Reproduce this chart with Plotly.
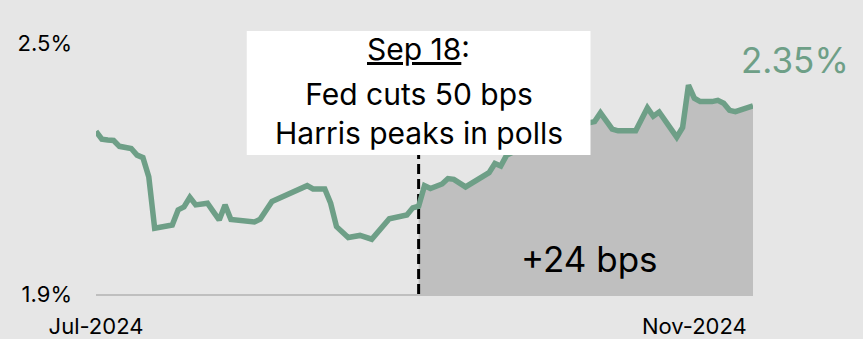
import plotly.graph_objects as go

# 10-year breakeven inflation, trading-day index from 1 Jul 2024
day = [0, 1, 2, 3, 4, 5, 6, 7, 8, 9, 10, 13, 14, 15, 16, 17, 19, 20, 21, 22,
       23, 27, 28, 30, 34, 36, 37, 39, 40, 41, 43, 45, 47, 50, 53, 54, 55, 56,
       57, 59, 60, 61, 63, 65, 67, 68, 69, 70, 72, 73, 75, 77, 78, 80, 82, 83,
       84, 85, 86, 88, 89, 92, 94, 95, 96, 99, 100, 101, 102, 103, 105, 106,
       107, 108, 109, 112]
rate = [2.289, 2.270, 2.268, 2.267, 2.253, 2.251, 2.248, 2.232, 2.226, 2.180,
        2.057, 2.065, 2.101, 2.108, 2.131, 2.113, 2.117, 2.097, 2.077, 2.113,
        2.078, 2.072, 2.079, 2.121, 2.148, 2.159, 2.151, 2.151, 2.117, 2.061,
        2.035, 2.040, 2.031, 2.080, 2.089, 2.106, 2.110, 2.159, 2.152, 2.163,
        2.176, 2.174, 2.156, 2.174, 2.190, 2.212, 2.206, 2.232, 2.244, 2.253,
        2.265, 2.272, 2.282, 2.289, 2.296, 2.306, 2.310, 2.312, 2.333, 2.294,
        2.290, 2.290, 2.345, 2.325, 2.335, 2.275, 2.298, 2.399, 2.368, 2.360,
        2.360, 2.363, 2.356, 2.339, 2.336, 2.350]

x_tick_days = [0, 102]
x_tick_text = ["Jul-2024", "Nov-2024"]
y_tick_vals = [1.9, 2.5]
y_tick_text = ["1.9%", "2.5%"]

event_day = 55  # Sep 18 Fed decision
event_title = "Sep 18"
event_lines = ["Fed cuts 50 bps", "Harris peaks in polls"]

GREEN = "#6e9f87"
BG = "#e6e6e6"
SHADE = "#bfbfbf"
FONT = "Inter"

ev = day.index(event_day)
change_bps = round((rate[-1] - rate[ev]) * 100)

fig = go.Figure()

# shaded area since the event
fig.add_trace(go.Scatter(
    x=day[ev:], y=rate[ev:], mode="lines", line=dict(width=0),
    fill="tozeroy", fillcolor=SHADE, hoverinfo="skip", showlegend=False))

# event marker
fig.add_trace(go.Scatter(
    x=[event_day, event_day], y=[y_tick_vals[0], y_tick_vals[1]], mode="lines",
    line=dict(color="black", width=3, dash="10px,5px"),
    hoverinfo="skip", showlegend=False))

# breakeven line
fig.add_trace(go.Scatter(
    x=day, y=rate, mode="lines", line=dict(color=GREEN, width=5.5),
    showlegend=False))

# plot area: paper y -> pixel helpers
T, B = 43, 45
H = 339
PH = H - T - B


def py(pix):
    return (H - B - pix) / PH


box_half = 29.3
fig.add_shape(type="rect", xref="x", yref="paper",
              x0=event_day - box_half, x1=event_day + box_half,
              y0=py(155), y1=py(31), fillcolor="white", line=dict(width=0),
              layer="above")

fig.add_annotation(x=event_day, y=py(49), xref="x", yref="paper",
                   xanchor="center", yanchor="middle",
                   text=f"<u>{event_title}</u>:", showarrow=False,
                   font=dict(family=FONT, size=30, color="black"))
fig.add_annotation(x=event_day, y=py(113.5), xref="x", yref="paper",
                   xanchor="center", yanchor="middle",
                   text="<br>".join(event_lines), showarrow=False,
                   font=dict(family=FONT, size=30, color="black"))

fig.add_annotation(x=84.2, y=py(259), xref="x", yref="paper",
                   xanchor="center", yanchor="middle",
                   text=f"+{change_bps} bps", showarrow=False,
                   font=dict(family=FONT, size=35, color="black"))

fig.add_annotation(x=day[-1], y=rate[-1], xref="x", yref="y",
                   text=f"{rate[-1]:.2f}%", showarrow=False,
                   xanchor="center", yanchor="middle", xshift=42, yshift=46,
                   font=dict(family=FONT, size=35, color=GREEN))

fig.update_layout(
    width=863, height=339,
    margin=dict(l=96, r=110, t=T, b=B, autoexpand=False),
    paper_bgcolor=BG, plot_bgcolor=BG,
    font=dict(family=FONT, color="black"),
    xaxis=dict(range=[0, 112], tickvals=x_tick_days, ticktext=x_tick_text,
               showgrid=False, zeroline=False, showline=True,
               linecolor=SHADE, linewidth=2, ticks="", automargin=False,
               tickfont=dict(family=FONT, size=22, color="black"),
               ticklabelstandoff=12),
    yaxis=dict(range=[1.9, 2.5], tickvals=y_tick_vals, ticktext=y_tick_text,
               showgrid=False, zeroline=False, showline=False, ticks="",
               automargin=False,
               tickfont=dict(family=FONT, size=22, color="black"),
               ticklabelstandoff=23),
)

fig.write_html("out.html")
